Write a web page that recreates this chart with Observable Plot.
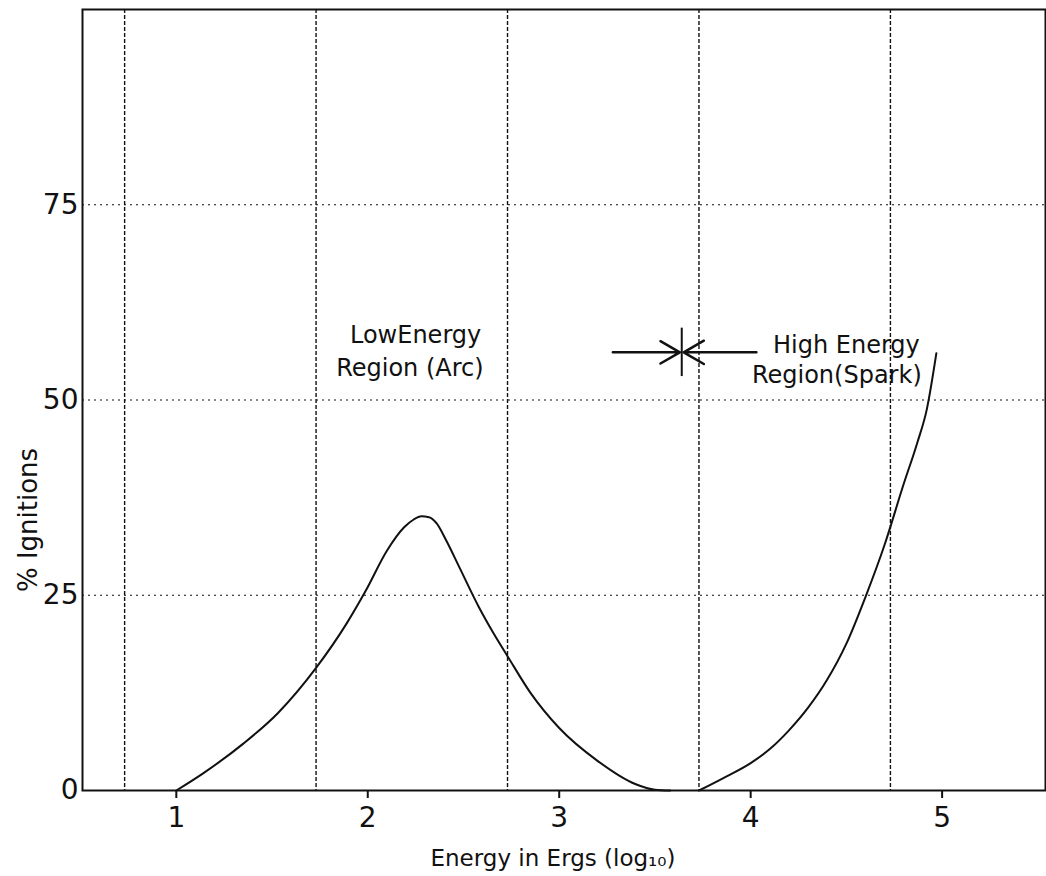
<!DOCTYPE html>
<html>
<head>
<meta charset="utf-8">
<script src="https://cdn.jsdelivr.net/npm/d3@7"></script>
<script src="https://cdn.jsdelivr.net/npm/@observablehq/plot@0.6"></script>
<style>
  html, body { margin: 0; padding: 0; background: #fff; }
  #chart svg { display: block; }
</style>
</head>
<body>
<div id="chart"></div>
<script>
// Low energy region (arc) curve
const lowEnergy = [1.0, 1.14, 1.35, 1.53, 1.73, 1.89, 1.99, 2.10, 2.19, 2.24, 2.28, 2.32, 2.36, 2.41, 2.48, 2.58, 2.66, 2.73, 2.85, 3.0, 3.2, 3.4, 3.5, 3.58];
const lowIgn    = [0, 2.2, 6.0, 9.9, 15.7, 21.4, 25.6, 30.7, 33.7, 34.7, 35.1, 35.0, 34.2, 32.0, 28.5, 23.5, 20.0, 17.2, 12.5, 8.0, 3.8, 0.8, 0.1, 0];

// High energy region (spark) curve
const highEnergy = [3.73, 3.85, 4.0, 4.1, 4.2, 4.3, 4.4, 4.5, 4.6, 4.7, 4.8, 4.87, 4.92, 4.97];
const highIgn    = [0, 1.5, 3.5, 5.3, 7.7, 10.6, 14.2, 18.8, 24.8, 31.5, 39.3, 44.5, 48.8, 56.0];

// Axes
const xTicks = [1, 2, 3, 4, 5];
const yTicks = [0, 25, 50, 75];
const xGrid = [0.73, 1.73, 2.73, 3.73, 4.73];
const yGrid = [25, 50, 75];

// Annotations
const annoText = ["LowEnergy", "Region (Arc)", "High Energy", "Region(Spark)"];
const annoX    = [2.25, 2.22, 4.50, 4.45];
const annoY    = [58.3, 54.0, 57.0, 53.1];

// Boundary marker between regions
const boundaryX = 3.64;
const boundaryY = 56.1;
const arrowFrom = [3.28, 4.03];
const tickSpan = [53.0, 59.2];

const xLabel = "Energy in Ergs (log\u2081\u2080)";
const yLabel = "% Ignitions";

const ink = "#111";
const low = lowEnergy.map((e, i) => ({e, p: lowIgn[i]}));
const high = highEnergy.map((e, i) => ({e, p: highIgn[i]}));
const annos = annoText.map((t, i) => ({t, x: annoX[i], y: annoY[i]}));
const arrows = arrowFrom.map(x1 => ({x1, x2: x1 < boundaryX ? boundaryX - 0.01 : boundaryX + 0.01, y: boundaryY}));

const chart = Plot.plot({
  width: 1046,
  height: 876,
  marginLeft: 82,
  marginRight: 1,
  marginTop: 9,
  marginBottom: 86,
  style: {fontFamily: "DejaVu Sans, sans-serif", background: "#fff", color: ink},
  x: {domain: [0.51, 5.54]},
  y: {domain: [0, 100]},
  marks: [
    Plot.ruleX(xGrid, {stroke: ink, strokeWidth: 1.4, strokeDasharray: "4,2"}),
    Plot.ruleY(yGrid, {stroke: ink, strokeWidth: 1.2, strokeDasharray: "2,4"}),
    Plot.frame({stroke: ink, strokeWidth: 2}),
    Plot.axisX({ticks: xTicks, tickFormat: d => String(d), tickSize: 8, tickPadding: 9, fontSize: 28, label: null, stroke: ink, strokeWidth: 2}),
    Plot.axisY({ticks: yTicks, tickFormat: d => String(d), tickSize: 0, tickPadding: 4, fontSize: 28, label: null}),
    Plot.line(low, {x: "e", y: "p", curve: "monotone-x", stroke: ink, strokeWidth: 2}),
    Plot.line(high, {x: "e", y: "p", curve: "monotone-x", stroke: ink, strokeWidth: 2}),
    Plot.arrow(arrows, {x1: "x1", x2: "x2", y1: "y", y2: "y", stroke: ink, strokeWidth: 2.5, headLength: 14}),
    Plot.ruleX([boundaryX], {y1: tickSpan[0], y2: tickSpan[1], stroke: ink, strokeWidth: 2}),
    Plot.text(annos, {x: "x", y: "y", text: "t", fontSize: 24, fill: ink}),
    Plot.text([yLabel], {frameAnchor: "left", text: d => d, rotate: -90, dx: -54, dy: 120, textAnchor: "middle", lineAnchor: "middle", fontSize: 26, fill: ink}),
    Plot.text([xLabel], {frameAnchor: "bottom", text: d => d, dx: -11, dy: 68, textAnchor: "middle", lineAnchor: "middle", fontSize: 23, fill: ink})
  ]
});
document.getElementById("chart").append(chart);
</script>
</body>
</html>
